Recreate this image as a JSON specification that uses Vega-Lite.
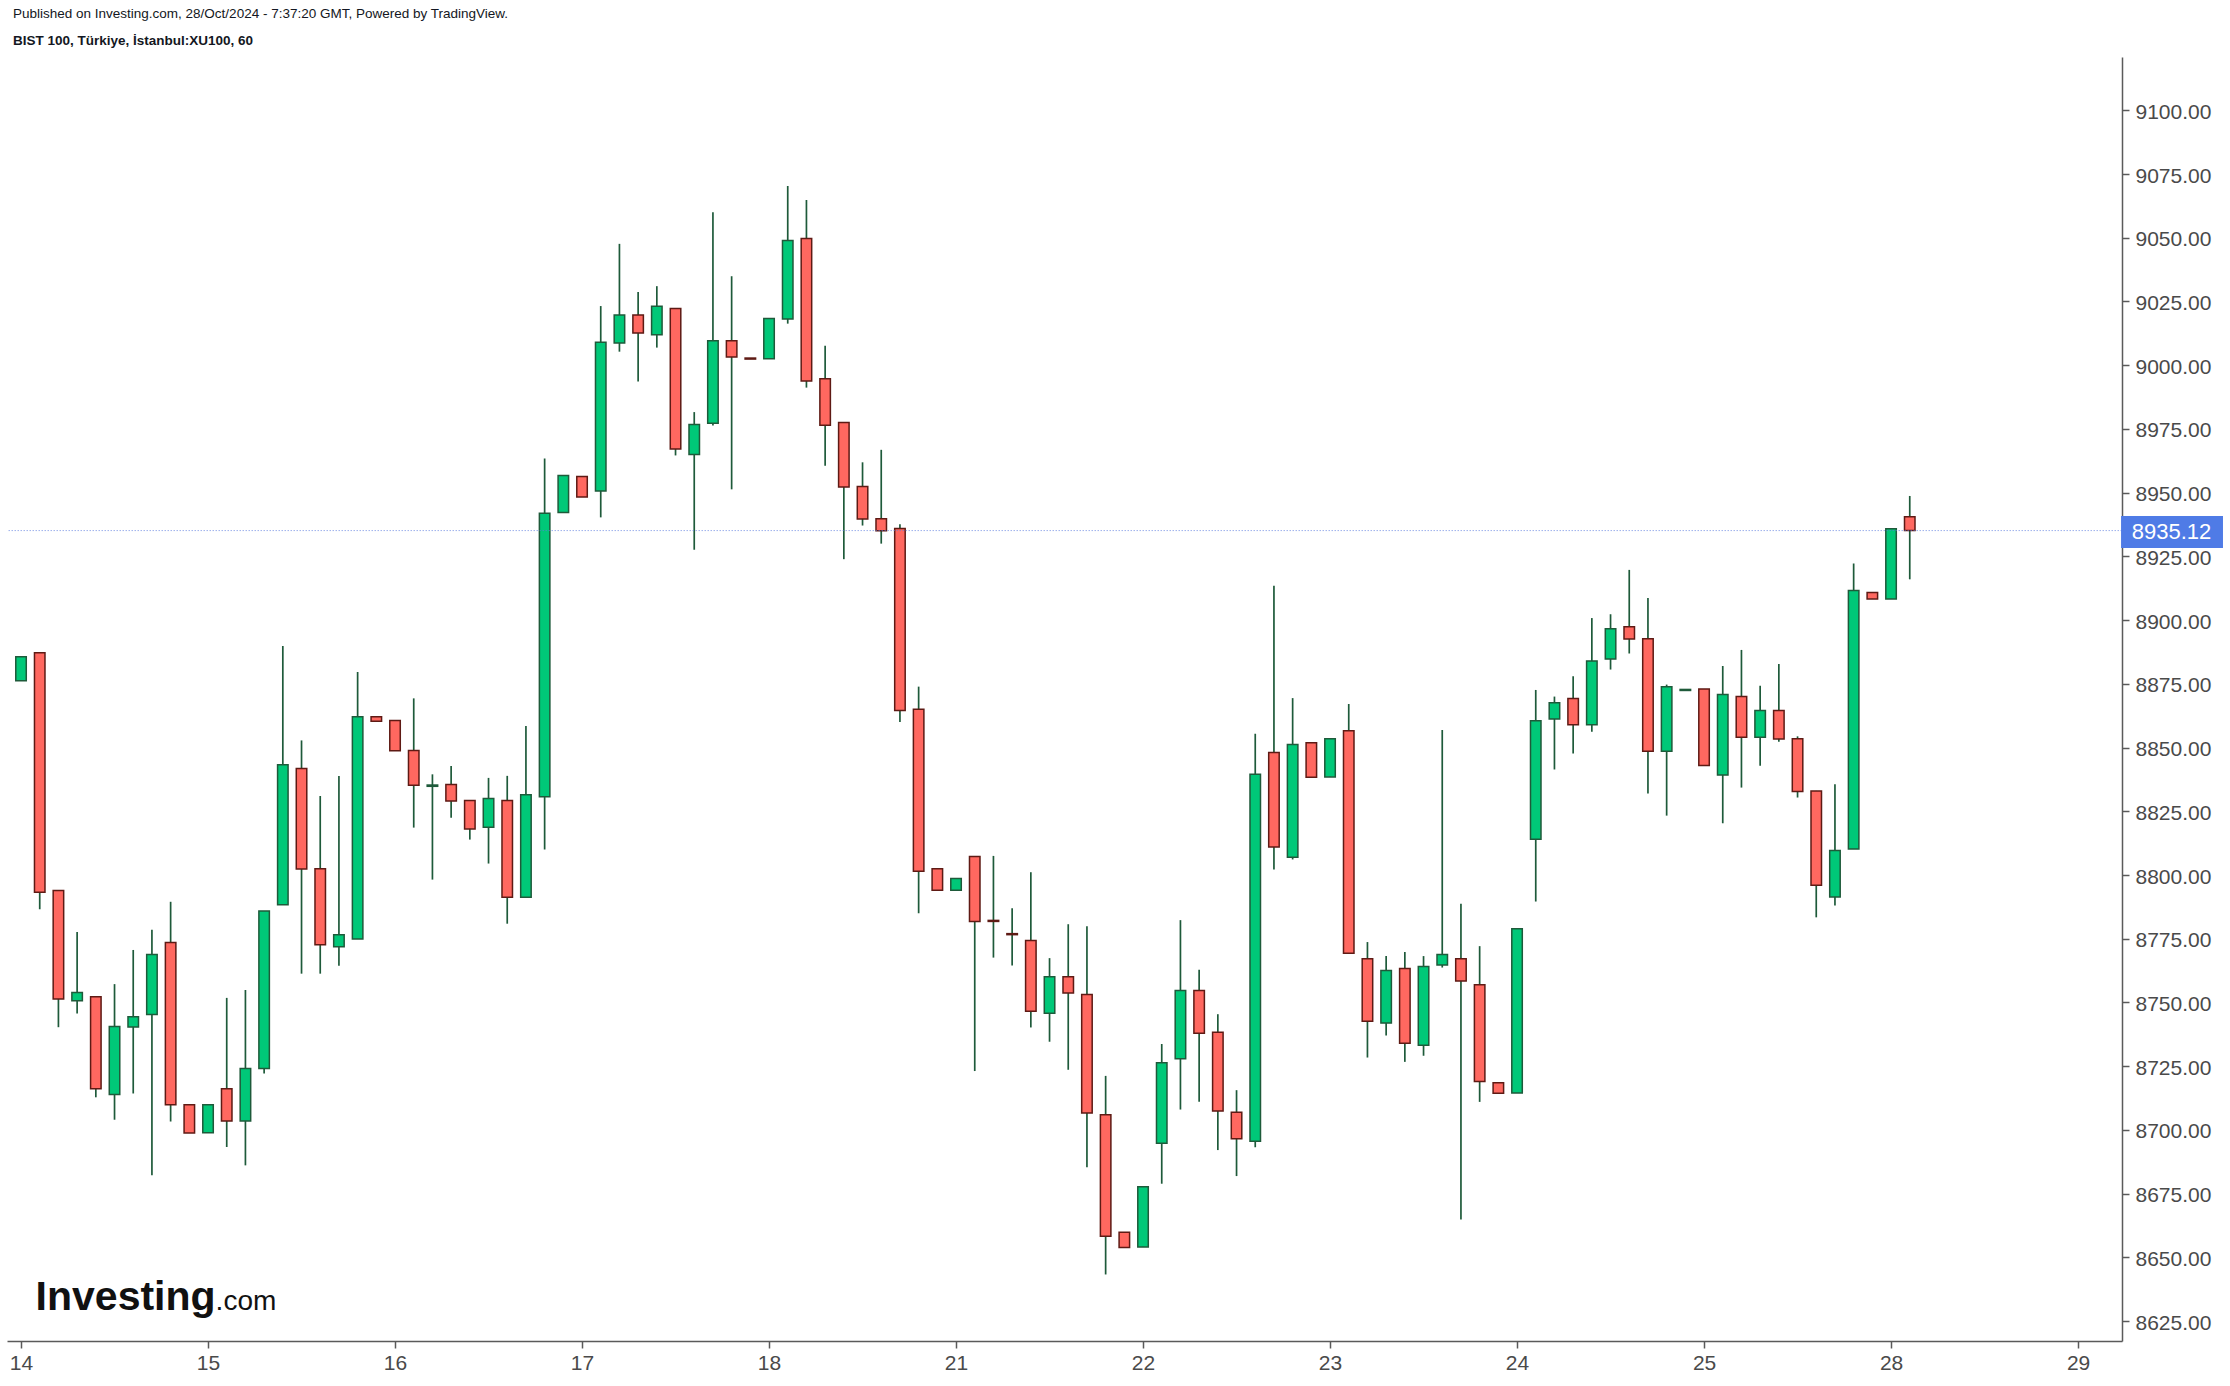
{
  "$schema": "https://vega.github.io/schema/vega-lite/v6.json",
  "autosize": "none",
  "width": 2115,
  "height": 1284,
  "padding": {"left": 7, "top": 57, "right": 108, "bottom": 45},
  "background": "white",
  "config": {"view": {"stroke": null}},
  "title": {
    "text": "Published on Investing.com, 28/Oct/2024 - 7:37:20 GMT, Powered by TradingView.",
    "subtitle": "BIST 100, Türkiye, İstanbul:XU100, 60",
    "anchor": "start", "frame": "group", "dx": 6, "offset": 10,
    "font": "Liberation Sans", "fontSize": 13.5, "fontWeight": "normal", "color": "#131722",
    "subtitleFont": "Liberation Sans", "subtitleFontSize": 13.5, "subtitleFontWeight": "bold", "subtitleColor": "#131722",
    "subtitlePadding": 13.5
  },
  "data": {"values": [
    {"i":0,"o":8876.2,"h":8885.6,"l":8876.2,"c":8885.6},
    {"i":1,"o":8887.2,"h":8887.2,"l":8786.6,"c":8793.2},
    {"i":2,"o":8793.9,"h":8793.9,"l":8740.3,"c":8751.4},
    {"i":3,"o":8750.7,"h":8777.6,"l":8745.7,"c":8753.9},
    {"i":4,"o":8752.2,"h":8752.2,"l":8712.8,"c":8716.2},
    {"i":5,"o":8713.9,"h":8757.2,"l":8704.0,"c":8740.6},
    {"i":6,"o":8740.4,"h":8770.6,"l":8714.3,"c":8744.4},
    {"i":7,"o":8745.3,"h":8778.5,"l":8682.2,"c":8768.8},
    {"i":8,"o":8773.5,"h":8789.5,"l":8703.3,"c":8709.9},
    {"i":9,"o":8709.9,"h":8709.9,"l":8698.8,"c":8698.8},
    {"i":10,"o":8698.9,"h":8709.9,"l":8698.9,"c":8709.9},
    {"i":11,"o":8716.2,"h":8751.8,"l":8693.3,"c":8703.5},
    {"i":12,"o":8703.5,"h":8754.9,"l":8686.1,"c":8724.1},
    {"i":13,"o":8724.1,"h":8785.9,"l":8722.1,"c":8785.9},
    {"i":14,"o":8788.3,"h":8889.8,"l":8788.3,"c":8843.3},
    {"i":15,"o":8841.8,"h":8852.8,"l":8761.3,"c":8802.4},
    {"i":16,"o":8802.5,"h":8831.0,"l":8761.3,"c":8772.6},
    {"i":17,"o":8771.9,"h":8838.8,"l":8764.4,"c":8776.6},
    {"i":18,"o":8774.9,"h":8879.6,"l":8774.9,"c":8862.1},
    {"i":19,"o":8862.1,"h":8862.1,"l":8860.3,"c":8860.3},
    {"i":20,"o":8860.6,"h":8860.6,"l":8848.7,"c":8848.7},
    {"i":21,"o":8848.8,"h":8869.3,"l":8818.6,"c":8835.2},
    {"i":22,"o":8834.8,"h":8839.5,"l":8798.2,"c":8835.3},
    {"i":23,"o":8835.5,"h":8842.8,"l":8822.5,"c":8829.0},
    {"i":24,"o":8829.2,"h":8829.2,"l":8813.9,"c":8818.1},
    {"i":25,"o":8818.7,"h":8838.1,"l":8804.5,"c":8830.0},
    {"i":26,"o":8829.2,"h":8838.9,"l":8780.9,"c":8791.3},
    {"i":27,"o":8791.3,"h":8858.5,"l":8791.3,"c":8831.5},
    {"i":28,"o":8830.7,"h":8963.4,"l":8810.0,"c":8941.9},
    {"i":29,"o":8942.2,"h":8956.7,"l":8942.2,"c":8956.7},
    {"i":30,"o":8956.3,"h":8956.3,"l":8948.3,"c":8948.3},
    {"i":31,"o":8950.6,"h":9023.2,"l":8940.3,"c":9009.0},
    {"i":32,"o":9008.7,"h":9047.6,"l":9005.3,"c":9019.7},
    {"i":33,"o":9019.7,"h":9028.7,"l":8993.6,"c":9012.6},
    {"i":34,"o":9011.9,"h":9031.0,"l":9006.9,"c":9023.1},
    {"i":35,"o":9022.2,"h":9022.2,"l":8964.6,"c":8967.1},
    {"i":36,"o":8965.0,"h":8981.6,"l":8927.6,"c":8976.7},
    {"i":37,"o":8977.2,"h":9060.0,"l":8976.3,"c":9009.6},
    {"i":38,"o":9009.6,"h":9034.9,"l":8951.3,"c":9003.2},
    {"i":39,"o":9002.8,"h":9002.8,"l":9002.4,"c":9002.4},
    {"i":40,"o":9002.5,"h":9018.3,"l":9002.5,"c":9018.3},
    {"i":41,"o":9018.1,"h":9070.3,"l":9016.3,"c":9048.9},
    {"i":42,"o":9049.7,"h":9064.8,"l":8991.2,"c":8993.8},
    {"i":43,"o":8994.7,"h":9007.6,"l":8960.6,"c":8976.4},
    {"i":44,"o":8977.5,"h":8977.5,"l":8923.9,"c":8952.2},
    {"i":45,"o":8952.4,"h":8961.9,"l":8937.1,"c":8939.7},
    {"i":46,"o":8939.8,"h":8966.8,"l":8930.0,"c":8935.1},
    {"i":47,"o":8935.9,"h":8937.6,"l":8860.0,"c":8864.5},
    {"i":48,"o":8865.0,"h":8873.9,"l":8785.0,"c":8801.5},
    {"i":49,"o":8802.5,"h":8802.5,"l":8794.0,"c":8794.0},
    {"i":50,"o":8794.0,"h":8798.6,"l":8794.0,"c":8798.6},
    {"i":51,"o":8807.3,"h":8807.3,"l":8723.1,"c":8781.8},
    {"i":52,"o":8782.2,"h":8807.5,"l":8767.6,"c":8781.8},
    {"i":53,"o":8777.0,"h":8787.0,"l":8764.5,"c":8776.6},
    {"i":54,"o":8774.3,"h":8801.1,"l":8740.2,"c":8746.6},
    {"i":55,"o":8745.8,"h":8767.4,"l":8734.6,"c":8760.1},
    {"i":56,"o":8760.1,"h":8780.7,"l":8723.6,"c":8753.7},
    {"i":57,"o":8753.1,"h":8779.9,"l":8685.4,"c":8706.6},
    {"i":58,"o":8706.0,"h":8721.2,"l":8643.3,"c":8658.3},
    {"i":59,"o":8659.9,"h":8659.9,"l":8653.9,"c":8653.9},
    {"i":60,"o":8654.1,"h":8677.7,"l":8654.1,"c":8677.7},
    {"i":61,"o":8694.8,"h":8733.7,"l":8678.9,"c":8726.4},
    {"i":62,"o":8727.9,"h":8782.3,"l":8708.0,"c":8754.7},
    {"i":63,"o":8754.7,"h":8762.8,"l":8711.1,"c":8737.9},
    {"i":64,"o":8738.3,"h":8745.4,"l":8692.1,"c":8707.4},
    {"i":65,"o":8706.9,"h":8715.6,"l":8681.9,"c":8696.5},
    {"i":66,"o":8695.6,"h":8855.4,"l":8693.2,"c":8839.5},
    {"i":67,"o":8848.1,"h":8913.5,"l":8802.2,"c":8811.0},
    {"i":68,"o":8807.0,"h":8869.4,"l":8806.1,"c":8851.2},
    {"i":69,"o":8851.9,"h":8851.9,"l":8838.4,"c":8838.4},
    {"i":70,"o":8838.5,"h":8853.5,"l":8838.5,"c":8853.5},
    {"i":71,"o":8856.6,"h":8867.1,"l":8769.3,"c":8769.3},
    {"i":72,"o":8767.2,"h":8773.7,"l":8728.4,"c":8742.6},
    {"i":73,"o":8741.9,"h":8768.2,"l":8737.0,"c":8762.5},
    {"i":74,"o":8763.3,"h":8769.8,"l":8726.7,"c":8734.0},
    {"i":75,"o":8733.2,"h":8768.2,"l":8729.1,"c":8764.1},
    {"i":76,"o":8764.7,"h":8856.9,"l":8763.7,"c":8768.8},
    {"i":77,"o":8767.2,"h":8788.7,"l":8664.9,"c":8758.4},
    {"i":78,"o":8757.0,"h":8772.1,"l":8711.0,"c":8719.0},
    {"i":79,"o":8718.5,"h":8718.5,"l":8714.4,"c":8714.4},
    {"i":80,"o":8714.5,"h":8778.9,"l":8714.5,"c":8778.9},
    {"i":81,"o":8814.0,"h":8872.6,"l":8789.6,"c":8860.5},
    {"i":82,"o":8861.2,"h":8870.0,"l":8841.4,"c":8867.6},
    {"i":83,"o":8869.2,"h":8878.0,"l":8847.7,"c":8858.9},
    {"i":84,"o":8858.9,"h":8900.8,"l":8856.2,"c":8884.0},
    {"i":85,"o":8884.7,"h":8902.3,"l":8880.6,"c":8896.6},
    {"i":86,"o":8897.4,"h":8919.7,"l":8886.9,"c":8892.6},
    {"i":87,"o":8892.7,"h":8908.7,"l":8832.0,"c":8848.6},
    {"i":88,"o":8848.6,"h":8874.7,"l":8823.3,"c":8873.9},
    {"i":89,"o":8872.4,"h":8872.8,"l":8872.4,"c":8872.8},
    {"i":90,"o":8873.0,"h":8873.0,"l":8843.0,"c":8843.0},
    {"i":91,"o":8839.2,"h":8882.0,"l":8820.3,"c":8870.8},
    {"i":92,"o":8870.0,"h":8888.3,"l":8834.3,"c":8854.0},
    {"i":93,"o":8854.0,"h":8874.2,"l":8842.9,"c":8864.5},
    {"i":94,"o":8864.5,"h":8882.8,"l":8852.3,"c":8853.4},
    {"i":95,"o":8853.5,"h":8854.4,"l":8830.4,"c":8832.8},
    {"i":96,"o":8833.0,"h":8833.0,"l":8783.4,"c":8796.0},
    {"i":97,"o":8791.4,"h":8835.6,"l":8788.0,"c":8809.6},
    {"i":98,"o":8810.2,"h":8922.2,"l":8810.2,"c":8911.6},
    {"i":99,"o":8910.8,"h":8910.8,"l":8908.3,"c":8908.3},
    {"i":100,"o":8908.3,"h":8935.8,"l":8908.3,"c":8935.8},
    {"i":101,"o":8940.5,"h":8948.7,"l":8916.0,"c":8935.12}
  ]},
  "layer": [
    {
      "mark": {"type": "rule", "color": "#1e5a3a", "strokeWidth": 1.7},
      "encoding": {
        "x": {"field": "i", "type": "quantitative",
              "scale": {"domain": [-0.75, 112.35], "nice": false, "zero": false, "padding": 0},
              "axis": {"title": null, "orient": "bottom", "values": [0,10,20,30,40,50,60,70,80,90,100,110],
                       "labelExpr": "['14','15','16','17','18','21','22','23','24','25','28','29'][round(datum.value/10)]",
                       "grid": false, "labelFont": "Liberation Sans", "labelFontSize": 21, "labelColor": "#4a4a4a",
                       "domainColor": "#5a5a5a", "domainWidth": 1.5, "tickColor": "#5a5a5a", "tickSize": 7, "tickWidth": 1.5, "labelPadding": 4}},
        "y": {"field": "l", "type": "quantitative",
              "scale": {"domain": [8617.2, 9120.9], "nice": false, "zero": false},
              "axis": {"title": null, "orient": "right",
                       "values": [8625,8650,8675,8700,8725,8750,8775,8800,8825,8850,8875,8900,8925,8950,8975,9000,9025,9050,9075,9100],
                       "format": ".2f", "grid": false, "labelFont": "Liberation Sans", "labelFontSize": 21, "labelColor": "#4a4a4a",
                       "domainColor": "#5a5a5a", "domainWidth": 1.5, "tickColor": "#5a5a5a", "tickSize": 7, "tickWidth": 1.5, "labelPadding": 6, "labelOffset": 2}},
        "y2": {"field": "h"}
      }
    },
    {
      "mark": {"type": "bar", "width": 10.5, "strokeWidth": 1.5},
      "encoding": {
        "x": {"field": "i", "type": "quantitative"},
        "y": {"field": "o", "type": "quantitative"},
        "y2": {"field": "c"},
        "fill": {"condition": {"test": "datum.c >= datum.o", "value": "#00c878"}, "value": "#ff6860"},
        "stroke": {"condition": {"test": "datum.c >= datum.o", "value": "#1e5a3a"}, "value": "#5e1a14"}
      }
    },
    {
      "data": {"values": [{"price": 8935.12, "x0": 112.3, "x1": 117.75, "lo": 8928.3, "hi": 8940.8}]},
      "layer": [
        {"mark": {"type": "rule", "color": "#5b7be0", "opacity": 0.6, "strokeWidth": 1, "strokeDash": [1.5, 1.5]},
         "encoding": {"y": {"field": "price", "type": "quantitative"}}},
        {"mark": {"type": "rect", "color": "#4f7be6"},
         "encoding": {"x": {"field": "x0", "type": "quantitative"}, "x2": {"field": "x1"},
                      "y": {"field": "lo", "type": "quantitative"}, "y2": {"field": "hi"}}},
        {"mark": {"type": "text", "color": "white", "font": "Liberation Sans", "fontSize": 22, "align": "center", "baseline": "middle", "dy": 1},
         "encoding": {"x": {"datum": 115.0, "type": "quantitative"}, "y": {"field": "price", "type": "quantitative"},
                      "text": {"field": "price", "type": "quantitative", "format": ".2f"}}}
      ]
    },
    {
      "data": {"values": [{"x": 0.78, "y": 8629.4, "t1": "Investing", "t2": ".com"}]},
      "layer": [
        {"mark": {"type": "text", "align": "left", "baseline": "alphabetic", "font": "Liberation Sans", "fontWeight": "bold", "fontSize": 41, "color": "#111111"},
         "encoding": {"x": {"field": "x", "type": "quantitative"}, "y": {"field": "y", "type": "quantitative"}, "text": {"field": "t1"}}},
        {"mark": {"type": "text", "align": "left", "baseline": "alphabetic", "font": "Liberation Sans", "fontSize": 28, "color": "#111111", "dx": 180},
         "encoding": {"x": {"field": "x", "type": "quantitative"}, "y": {"field": "y", "type": "quantitative"}, "text": {"field": "t2"}}}
      ]
    }
  ]
}
